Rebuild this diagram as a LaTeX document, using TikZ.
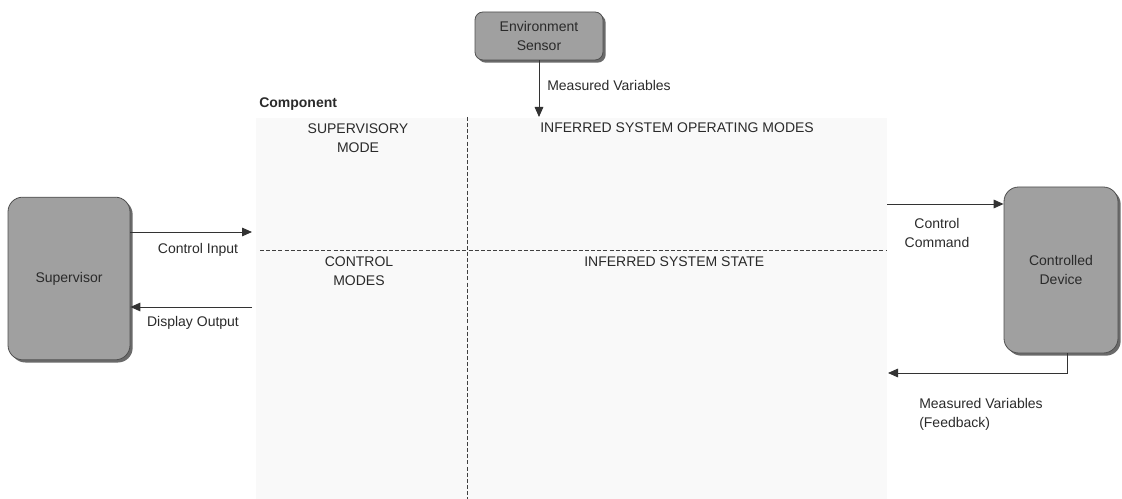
\documentclass[tikz,border=0pt]{standalone}
\usepackage{fontspec}
\setmainfont{Liberation Sans}
\usetikzlibrary{arrows.meta,shadows,calc}

\definecolor{boxfill}{HTML}{A0A0A0}
\definecolor{boxline}{HTML}{505050}
\definecolor{boxshadow}{HTML}{6A6A6A}
\definecolor{inktext}{HTML}{2A2A2A}
\definecolor{panelfill}{HTML}{F9F9F9}

\tikzset{
  blockbox/.style={draw=boxline, line width=0.6pt, fill=boxfill, rounded corners=#1,
    text=inktext, align=center, inner sep=0pt,
    drop shadow={shadow xshift=2pt, shadow yshift=-2pt, fill=boxshadow, opacity=1}},
  blockbox/.default=11pt,
  lbl/.style={inner sep=0pt, text=inktext, align=center},
  conn/.style={draw=black!80, line width=0.7pt,
    -{Triangle[length=7.5pt,width=6.5pt]}},
  divider/.style={draw=black!75, line width=0.7pt, dash pattern=on 3pt off 1.6pt},
}

\begin{document}
\begin{tikzpicture}[x=0.75pt, y=-0.75pt, font=\fontsize{10.5}{14.25}\selectfont]
  \useasboundingbox (0,0) rectangle (1122,499);

  % faint background of the component area
  \fill[panelfill] (256,118) rectangle (887,499);

  % blocks
  \node[blockbox=11pt, minimum width=91.5pt, minimum height=122pt] (sup) at (69,278.5) {Supervisor};
  \node[blockbox=6pt, minimum width=96pt, minimum height=36pt] (env) at (539,36) {Environment\\Sensor};
  \node[blockbox=11pt, minimum width=85.5pt, minimum height=124.5pt] (dev) at (1061,270) {Controlled\\Device};

  % component divisions
  \coordinate (hl) at (260,250);
  \coordinate (hr) at (887,250);
  \coordinate (vt) at (467,117);
  \coordinate (vb) at (467,499);
  \draw[divider] (hl) -- (hr);
  \draw[divider] (vt) -- (vb);

  % connector ends
  \coordinate (ciend) at (252,232);
  \coordinate (dostart) at (252,307);
  \coordinate (mvend) at (539,117);
  \coordinate (ccstart) at (887,204);
  \coordinate (fbend) at (888,373);

  \draw[conn] (sup.east |- ciend) -- (ciend);
  \draw[conn] (dostart) -- (sup.east |- dostart);
  \draw[conn] (env.south) -- (mvend);
  \draw[conn] (ccstart) -- (dev.west |- ccstart);
  \draw[conn] ($(dev.south)+(6,0)$) |- (fbend);

  % labels
  \node[lbl, font=\fontsize{10.5}{14.25}\selectfont\bfseries, anchor=west] (comp) at (259,104) {Component};
  \node[lbl] (supmode) at (358,138.5) {SUPERVISORY\\MODE};
  \node[lbl, anchor=west] (opmodes) at (540,128) {INFERRED SYSTEM OPERATING MODES};
  \node[lbl] (ctlmodes) at (359,271.5) {CONTROL\\MODES};
  \node[lbl, anchor=west] (sysstate) at (584,262) {INFERRED SYSTEM STATE};

  \node[lbl] (cilbl) at (198,250) {Control Input};
  \node[lbl] (dolbl) at (193,323) {Display Output};
  \node[lbl, anchor=west] (mvlbl) at (547,85) {Measured Variables};
  \node[lbl] (cclbl) at (937,232.5) {Control\\Command};
  \node[lbl, anchor=west, align=left] (fblbl) at (919,414.5) {Measured Variables\\(Feedback)};
\end{tikzpicture}
\end{document}
